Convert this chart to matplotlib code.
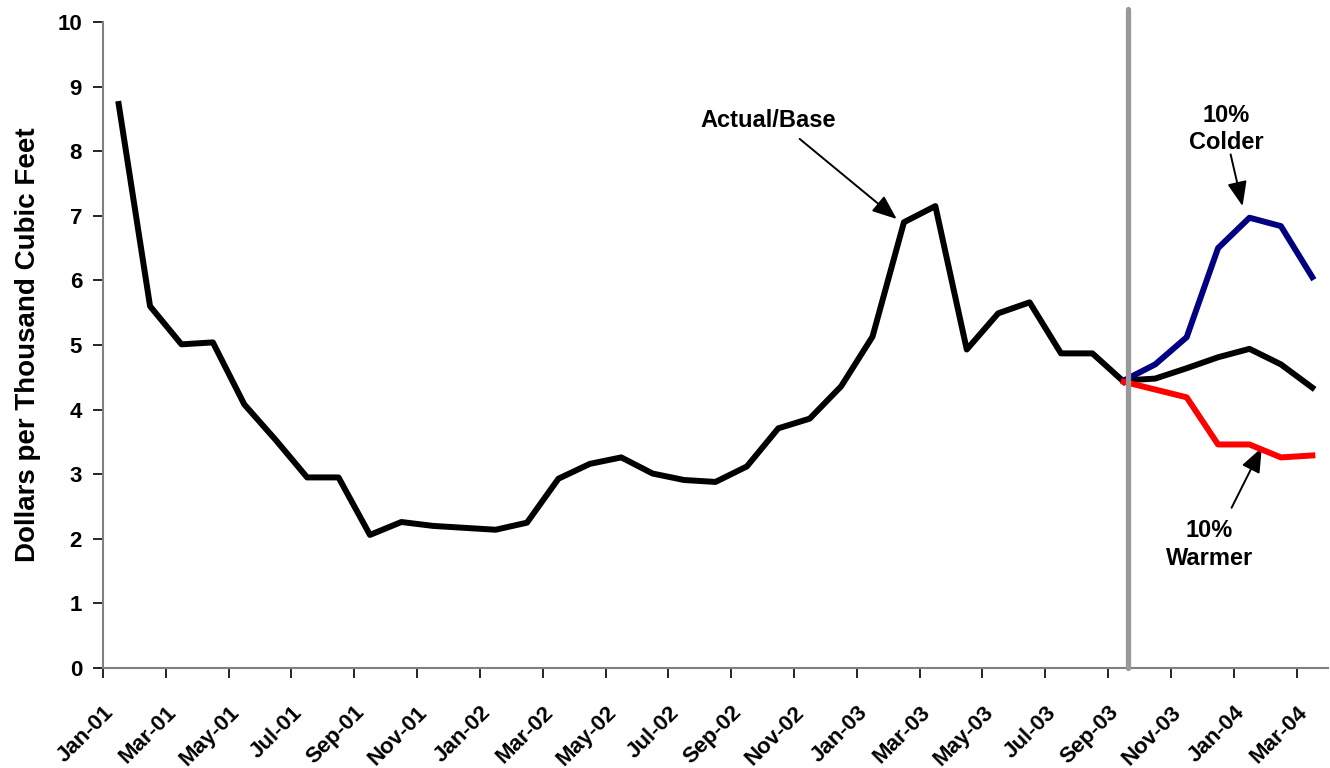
import matplotlib
matplotlib.use("Agg")
import matplotlib.pyplot as plt

plt.rcParams['font.family'] = ['Liberation Sans', 'DejaVu Sans']

# Month index 0 = Jan-01; data points sit mid-month
actual_months = list(range(0, 33))  # Jan-01 .. Sep-03
actual = [8.73, 5.60, 5.01, 5.04, 4.08, 3.53, 2.95, 2.95, 2.06, 2.26, 2.20, 2.17,
          2.14, 2.25, 2.93, 3.16, 3.26, 3.01, 2.91, 2.88, 3.12, 3.71, 3.86, 4.36,
          5.13, 6.90, 7.15, 4.93, 5.49, 5.66, 4.87, 4.87, 4.43]

fc_months = list(range(32, 39))  # Sep-03 .. Mar-04
base = [4.45, 4.48, 4.64, 4.81, 4.94, 4.70, 4.34]
colder = [4.45, 4.70, 5.12, 6.50, 6.97, 6.84, 6.05]
warmer = [4.43, 4.31, 4.19, 3.46, 3.46, 3.26, 3.29]

tick_labels = ['Jan-01', 'Mar-01', 'May-01', 'Jul-01', 'Sep-01', 'Nov-01',
               'Jan-02', 'Mar-02', 'May-02', 'Jul-02', 'Sep-02', 'Nov-02',
               'Jan-03', 'Mar-03', 'May-03', 'Jul-03', 'Sep-03', 'Nov-03',
               'Jan-04', 'Mar-04']

fig = plt.figure(figsize=(13.3, 7.68), dpi=100)
ax = fig.add_axes([0.0774, 0.1302, 0.9211, 0.8412])

xa = [m + 0.5 for m in actual_months]
xf = [m + 0.5 for m in fc_months]

ax.plot(xa, actual, color='black', lw=4.3, zorder=3)
ax.plot(xf, base, color='black', lw=4.3, zorder=3)
ax.plot(xf, colder, color='#000080', lw=4.3, zorder=4)
ax.plot(xf, warmer, color='#FF0000', lw=4.3, zorder=4)

# vertical divider
ax.plot([32.62, 32.62], [0, 10.2], color='#999999', lw=3.8, zorder=5,
        clip_on=False, solid_capstyle='round')

ax.set_xlim(0, 39)
ax.set_ylim(0, 10)
ax.set_xticks(range(0, 39, 2))
ax.set_xticklabels(tick_labels, rotation=45, ha='right', va='top',
                   rotation_mode='anchor', fontsize=16, fontweight='bold')
ax.set_yticks(range(0, 11))
ax.set_yticklabels([str(v) for v in range(0, 11)], fontsize=16, fontweight='bold')
ax.tick_params(axis='both', direction='out', length=7, width=1.2, color='black')
ax.tick_params(axis='x', pad=17.5)
ax.tick_params(axis='y', pad=8)

for s in ['top', 'right']:
    ax.spines[s].set_visible(False)
for s in ['left', 'bottom']:
    ax.spines[s].set_color('#808080')
    ax.spines[s].set_linewidth(1.5)

ax.set_ylabel('Dollars per Thousand Cubic Feet', fontsize=20, fontweight='bold', labelpad=12)

arrowprops = dict(arrowstyle='-|>,head_length=1.0,head_width=0.4', color='black',
                  lw=1.4, shrinkA=0, shrinkB=0, mutation_scale=15)
ax.annotate('', xy=(25.27, 6.95), xytext=(22.18, 8.19), arrowprops=arrowprops)
ax.text(21.17, 8.47, 'Actual/Base', ha='center', va='center', fontsize=17, fontweight='bold')

ax.annotate('', xy=(36.28, 7.15), xytext=(35.9, 7.95), arrowprops=arrowprops)
ax.text(35.77, 8.34, '10%\nColder', ha='center', va='center', fontsize=17,
        fontweight='bold', linespacing=1.25)

ax.annotate('', xy=(36.89, 3.41), xytext=(35.93, 2.48), arrowprops=arrowprops)
ax.text(35.23, 1.91, '10%\nWarmer', ha='center', va='center', fontsize=17,
        fontweight='bold', linespacing=1.25)

fig.savefig('out.png', dpi=100)
